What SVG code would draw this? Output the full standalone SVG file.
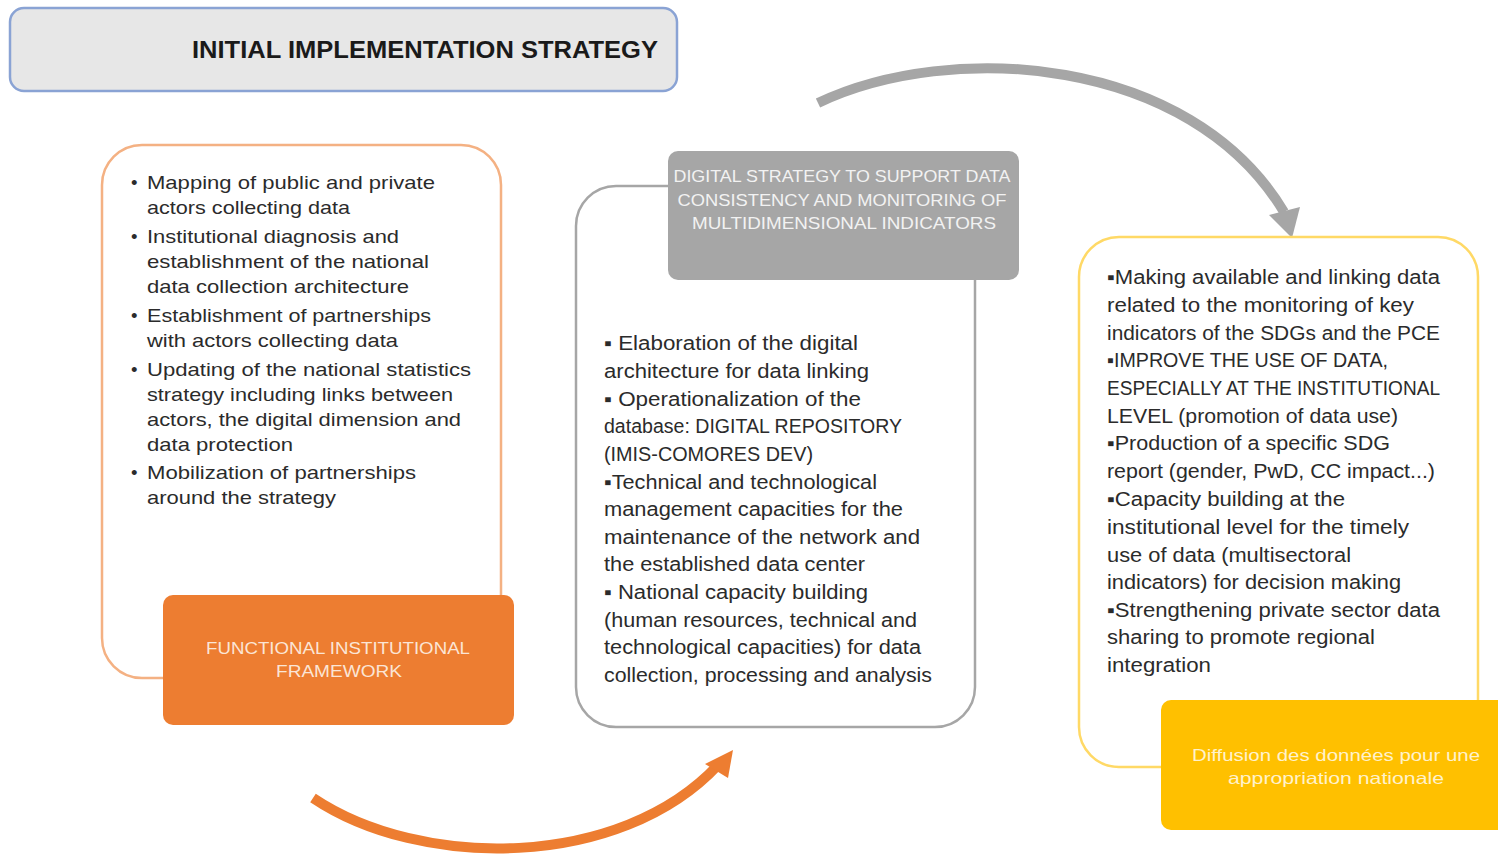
<svg xmlns="http://www.w3.org/2000/svg" width="1498" height="859" viewBox="0 0 1498 859">
<style>
.body{font-family:"Liberation Sans",Arial,sans-serif;fill:#2b2b2b;}
.l{font-size:18.5px;}
.m{font-size:19.5px;}
.hdr{font-family:"Liberation Sans",Arial,sans-serif;font-size:16.5px;text-anchor:middle;}
</style>
<rect width="1498" height="859" fill="#ffffff"/>
<g id="title">
<rect x="10" y="8" width="667" height="83" rx="14" fill="#e7e7e7" stroke="#8aa3d4" stroke-width="2.5"/>
<text x="192" y="58" font-family="Liberation Sans,Arial,sans-serif" font-size="23" font-weight="bold" fill="#1a1a1a" textLength="466" lengthAdjust="spacingAndGlyphs">INITIAL IMPLEMENTATION STRATEGY</text>
</g>
<g id="connectors">
<path d="M818,103 C950,40 1190,55 1284,212" fill="none" stroke="#a6a6a6" stroke-width="10"/>
<polygon points="1269,215 1300,207 1292,238" fill="#a6a6a6"/>
<path d="M313,798 C420,870 620,870 718,765" fill="none" stroke="#ed7d31" stroke-width="10"/>
<polygon points="705,764 733,750 728,778" fill="#ed7d31"/>
</g>
<g id="panel1">
<rect x="102" y="145" width="399" height="533" rx="40" fill="#ffffff" stroke="#f4b183" stroke-width="2.5"/>
<g class="body l">
<text x="131" y="189">•</text>
<text x="147" y="189" textLength="288" lengthAdjust="spacingAndGlyphs">Mapping of public and private</text>
<text x="147" y="214" textLength="203" lengthAdjust="spacingAndGlyphs">actors collecting data</text>
<text x="131" y="243">•</text>
<text x="147" y="243" textLength="252" lengthAdjust="spacingAndGlyphs">Institutional diagnosis and</text>
<text x="147" y="268" textLength="282" lengthAdjust="spacingAndGlyphs">establishment of the national</text>
<text x="147" y="293" textLength="262" lengthAdjust="spacingAndGlyphs">data collection architecture</text>
<text x="131" y="322">•</text>
<text x="147" y="322" textLength="284" lengthAdjust="spacingAndGlyphs">Establishment of partnerships</text>
<text x="147" y="347" textLength="251" lengthAdjust="spacingAndGlyphs">with actors collecting data</text>
<text x="131" y="376">•</text>
<text x="147" y="376" textLength="324" lengthAdjust="spacingAndGlyphs">Updating of the national statistics</text>
<text x="147" y="401" textLength="306" lengthAdjust="spacingAndGlyphs">strategy including links between</text>
<text x="147" y="426" textLength="314" lengthAdjust="spacingAndGlyphs">actors, the digital dimension and</text>
<text x="147" y="451" textLength="146" lengthAdjust="spacingAndGlyphs">data protection</text>
<text x="131" y="479">•</text>
<text x="147" y="479" textLength="269" lengthAdjust="spacingAndGlyphs">Mobilization of partnerships</text>
<text x="147" y="504" textLength="189" lengthAdjust="spacingAndGlyphs">around the strategy</text>
</g>
</g>
<g id="label1">
<rect x="163" y="595" width="351" height="130" rx="10" fill="#ed7d31"/>
<text class="hdr" fill="#fbe5d6"><tspan x="338" y="654" textLength="264" lengthAdjust="spacingAndGlyphs">FUNCTIONAL INSTITUTIONAL</tspan><tspan x="339" y="677" textLength="126" lengthAdjust="spacingAndGlyphs">FRAMEWORK</tspan></text>
</g>
<g id="panel2">
<rect x="576" y="186" width="399" height="541" rx="40" fill="#ffffff" stroke="#a6a6a6" stroke-width="2.5"/>
<g class="body m">
<text x="604" y="350" textLength="254" lengthAdjust="spacingAndGlyphs">▪ Elaboration of the digital</text>
<text x="604" y="378" textLength="265" lengthAdjust="spacingAndGlyphs">architecture for data linking</text>
<text x="604" y="406" textLength="257" lengthAdjust="spacingAndGlyphs">▪ Operationalization of the</text>
<text x="604" y="433" textLength="298" lengthAdjust="spacingAndGlyphs">database: DIGITAL REPOSITORY</text>
<text x="604" y="461" textLength="209" lengthAdjust="spacingAndGlyphs">(IMIS-COMORES DEV)</text>
<text x="604" y="489" textLength="273" lengthAdjust="spacingAndGlyphs">▪Technical and technological</text>
<text x="604" y="516" textLength="299" lengthAdjust="spacingAndGlyphs">management capacities for the</text>
<text x="604" y="544" textLength="316" lengthAdjust="spacingAndGlyphs">maintenance of the network and</text>
<text x="604" y="571" textLength="261" lengthAdjust="spacingAndGlyphs">the established data center</text>
<text x="604" y="599" textLength="264" lengthAdjust="spacingAndGlyphs">▪ National capacity building</text>
<text x="604" y="627" textLength="313" lengthAdjust="spacingAndGlyphs">(human resources, technical and</text>
<text x="604" y="654" textLength="317" lengthAdjust="spacingAndGlyphs">technological capacities) for data</text>
<text x="604" y="682" textLength="328" lengthAdjust="spacingAndGlyphs">collection, processing and analysis</text>
</g>
</g>
<g id="label2">
<rect x="668" y="151" width="351" height="129" rx="10" fill="#a6a6a6"/>
<text class="hdr" fill="#f2f2f2"><tspan x="842" y="182" textLength="337" lengthAdjust="spacingAndGlyphs">DIGITAL STRATEGY TO SUPPORT DATA</tspan><tspan x="842" y="206" textLength="329" lengthAdjust="spacingAndGlyphs">CONSISTENCY AND MONITORING OF</tspan><tspan x="844" y="229" textLength="304" lengthAdjust="spacingAndGlyphs">MULTIDIMENSIONAL INDICATORS</tspan></text>
</g>
<g id="panel3">
<rect x="1079" y="237" width="399" height="530" rx="40" fill="#ffffff" stroke="#ffd966" stroke-width="2.5"/>
<g class="body m">
<text x="1107" y="284" textLength="333" lengthAdjust="spacingAndGlyphs">▪Making available and linking data</text>
<text x="1107" y="312" textLength="307" lengthAdjust="spacingAndGlyphs">related to the monitoring of key</text>
<text x="1107" y="340" textLength="333" lengthAdjust="spacingAndGlyphs">indicators of the SDGs and the PCE</text>
<text x="1107" y="367" textLength="281" lengthAdjust="spacingAndGlyphs">▪IMPROVE THE USE OF DATA,</text>
<text x="1107" y="395" textLength="333" lengthAdjust="spacingAndGlyphs">ESPECIALLY AT THE INSTITUTIONAL</text>
<text x="1107" y="423" textLength="291" lengthAdjust="spacingAndGlyphs">LEVEL (promotion of data use)</text>
<text x="1107" y="450" textLength="283" lengthAdjust="spacingAndGlyphs">▪Production of a specific SDG</text>
<text x="1107" y="478" textLength="328" lengthAdjust="spacingAndGlyphs">report (gender, PwD, CC impact...)</text>
<text x="1107" y="506" textLength="238" lengthAdjust="spacingAndGlyphs">▪Capacity building at the</text>
<text x="1107" y="534" textLength="302" lengthAdjust="spacingAndGlyphs">institutional level for the timely</text>
<text x="1107" y="562" textLength="244" lengthAdjust="spacingAndGlyphs">use of data (multisectoral</text>
<text x="1107" y="589" textLength="294" lengthAdjust="spacingAndGlyphs">indicators) for decision making</text>
<text x="1107" y="617" textLength="333" lengthAdjust="spacingAndGlyphs">▪Strengthening private sector data</text>
<text x="1107" y="644" textLength="268" lengthAdjust="spacingAndGlyphs">sharing to promote regional</text>
<text x="1107" y="672" textLength="104" lengthAdjust="spacingAndGlyphs">integration</text>
</g>
</g>
<g id="label3">
<rect x="1161" y="700" width="350" height="130" rx="10" fill="#ffc000"/>
<text class="hdr" fill="#fff2cc"><tspan x="1336" y="761" textLength="288" lengthAdjust="spacingAndGlyphs">Diffusion des données pour une</tspan><tspan x="1336" y="784" textLength="216" lengthAdjust="spacingAndGlyphs">appropriation nationale</tspan></text>
</g>
</svg>
